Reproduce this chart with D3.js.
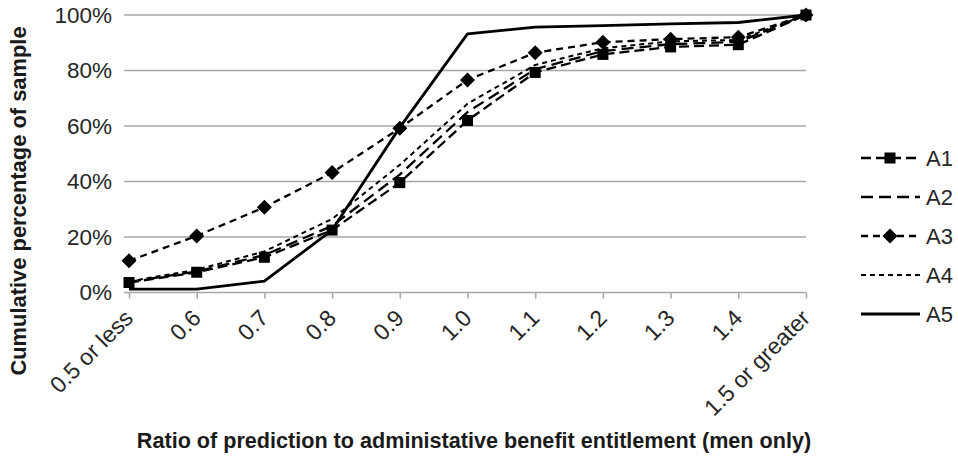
<!DOCTYPE html>
<html><head><meta charset="utf-8">
<script src="https://cdn.jsdelivr.net/npm/d3@7"></script>
<style>body{margin:0;background:#fff}svg{display:block}</style>
</head><body><svg id="c" width="958" height="459"></svg>
<script>
const categories = ["0.5 or less","0.6","0.7","0.8","0.9","1.0","1.1","1.2","1.3","1.4","1.5 or greater"];
const seriesNames = ["A1","A2","A3","A4","A5"];
const A1 = [3.6, 7.3, 12.7, 22.5, 39.6, 62.0, 79.3, 85.8, 88.5, 89.3, 100];
const A2 = [3.8, 7.6, 13.5, 24.0, 42.5, 65.0, 80.5, 87.0, 89.5, 90.3, 100];
const A3 = [11.4, 20.4, 30.7, 43.2, 59.2, 76.6, 86.4, 90.2, 91.3, 92.0, 100];
const A4 = [4.0, 8.2, 14.8, 26.5, 46.0, 68.0, 82.0, 88.0, 90.5, 91.0, 100];
const A5 = [1.2, 1.2, 4.1, 22.5, 59.5, 93.2, 95.6, 96.2, 96.8, 97.3, 100];
const yTicks = [0, 20, 40, 60, 80, 100];

(function(){
const seriesData = [A1, A2, A3, A4, A5];
const styles = [
  {dash:"10,5", w:2.3, marker:"square"},
  {dash:"12,6", w:2.3, marker:null},
  {dash:"7,5", w:2.3, marker:"diamond"},
  {dash:"5,4", w:2, marker:null},
  {dash:null, w:2.8, marker:null}
];
const font = "'Liberation Sans', Arial, sans-serif";
const svg = d3.select("#c");
const pl = 129, pr = 806, pt = 15, pb = 292.5;
const x = d3.scalePoint().domain(categories).range([pl, pr]);
const y = d3.scaleLinear().domain([0, 100]).range([pb, pt]);

// gridlines
svg.append("g").selectAll("line").data(yTicks.filter(d=>d>0)).join("line")
  .attr("x1", 124).attr("x2", pr).attr("y1", d=>y(d)).attr("y2", d=>y(d))
  .attr("stroke", "#a6a6a6").attr("stroke-width", 1.5);

// x axis
const xAxis = svg.append("g").attr("transform", `translate(0,${pb})`)
  .call(d3.axisBottom(x).tickSize(6).tickSizeOuter(0));
xAxis.select(".domain").attr("stroke", "#a6a6a6").attr("stroke-width", 1.5).attr("d", `M124,0H${pr}`);
xAxis.selectAll(".tick line").attr("stroke", "#a6a6a6").attr("stroke-width", 1.5);
xAxis.selectAll(".tick text")
  .attr("font-family", font).attr("font-size", 23).attr("fill", "#262626")
  .attr("text-anchor", "end").attr("dy", null).attr("y", 0)
  .attr("transform", "translate(5,27) rotate(-45)");

// y axis labels
const yAxis = svg.append("g").attr("transform", `translate(${pl},0)`)
  .call(d3.axisLeft(y).tickValues(yTicks).tickFormat(d=>d+"%").tickSize(0).tickPadding(17));
yAxis.select(".domain").remove();
yAxis.selectAll(".tick text").attr("font-family", font).attr("font-size", 22.5).attr("fill", "#262626");

// lines
const line = d3.line().x((d,i)=>x(categories[i])).y(d=>y(d));
const drawOrder = [4,3,1,0,2];
drawOrder.forEach(si => {
  const s = styles[si];
  svg.append("path").datum(seriesData[si]).attr("d", line)
    .attr("fill", "none").attr("stroke", "#000").attr("stroke-width", s.w)
    .attr("stroke-dasharray", s.dash).attr("stroke-linejoin", "round");
});
function marker(g, type, cx, cy){
  if(type==="square"){
    g.append("rect").attr("x", cx-5.5).attr("y", cy-5.5).attr("width", 11).attr("height", 11).attr("fill", "#000");
  } else if(type==="diamond"){
    g.append("path").attr("d", `M${cx},${cy-7.5}L${cx+7.5},${cy}L${cx},${cy+7.5}L${cx-7.5},${cy}Z`).attr("fill", "#000");
  }
}
[0,2].forEach(si => {
  const g = svg.append("g");
  seriesData[si].forEach((v,i) => marker(g, styles[si].marker, x(categories[i]), y(v)));
});

// legend
const lg = svg.append("g");
seriesNames.forEach((n,i) => {
  const ly = 158 + i*39;
  const s = styles[i];
  lg.append("line").attr("x1", 861).attr("x2", 920).attr("y1", ly).attr("y2", ly)
    .attr("stroke", "#000").attr("stroke-width", s.w).attr("stroke-dasharray", s.dash);
  if(s.marker) marker(lg, s.marker, 890, ly);
  lg.append("text").attr("x", 926).attr("y", ly).attr("dy", "0.35em")
    .attr("font-family", font).attr("font-size", 22).attr("fill", "#262626").text(n);
});

// axis titles
svg.append("text").attr("x", 474).attr("y", 448).attr("text-anchor", "middle")
  .attr("font-family", font).attr("font-size", 21.6).attr("font-weight", "bold").attr("fill", "#1a1a1a")
  .text("Ratio of prediction to administative benefit entitlement (men only)");
svg.append("text").attr("transform", "translate(26,201) rotate(-90)").attr("text-anchor", "middle")
  .attr("font-family", font).attr("font-size", 21.9).attr("font-weight", "bold").attr("fill", "#1a1a1a")
  .text("Cumulative percentage of sample");
})();
</script></body></html>
